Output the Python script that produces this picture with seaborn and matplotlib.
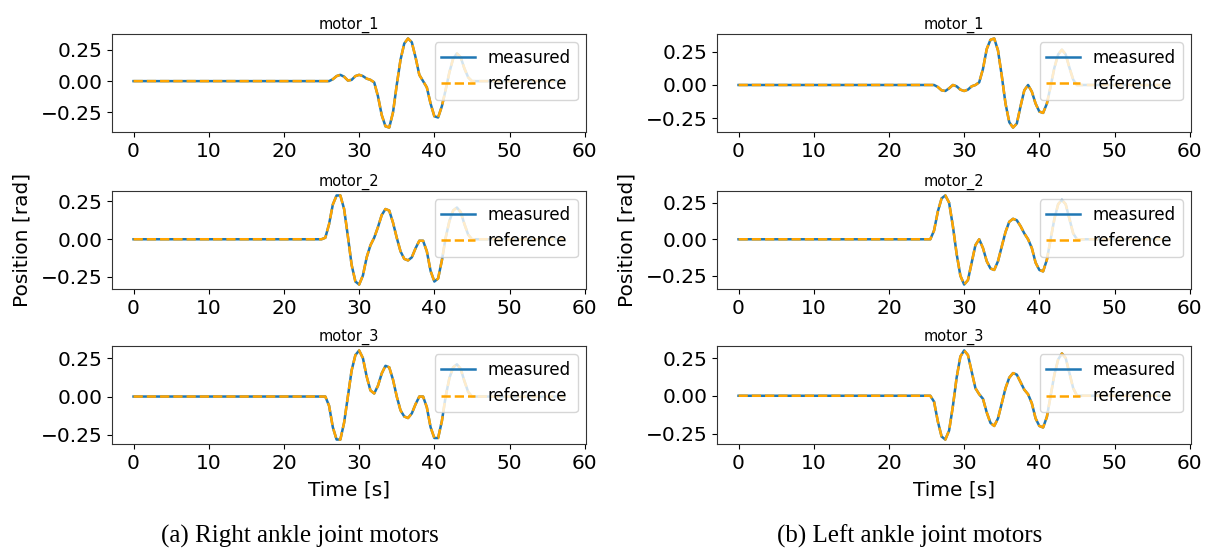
import matplotlib
matplotlib.use("Agg")
import matplotlib.pyplot as plt
import seaborn as sns

plt.rcParams["font.family"] = ["DejaVu Sans"]

# ---------------- data ----------------
time_s = [0.0,
          25.0, 25.5, 26.0, 26.5, 27.0, 27.5, 28.0, 28.5, 29.0, 29.5,
          30.0, 30.5, 31.0, 31.5, 32.0, 32.5, 33.0, 33.5, 34.0, 34.5,
          35.0, 35.5, 36.0, 36.5, 37.0, 37.5, 38.0, 38.5, 39.0, 39.5,
          40.0, 40.5, 41.0, 41.5, 42.0, 42.5, 43.0, 43.5, 44.0, 44.5,
          45.0, 45.5, 46.0, 46.5,
          57.3]

right_motor_1 = [0.0,
                 0.0, 0.0, 0.0, 0.015, 0.04, 0.05, 0.035, 0.005, 0.01, 0.04,
                 0.05, 0.04, 0.02, 0.01, -0.01, -0.12, -0.27, -0.36, -0.37, -0.25,
                 -0.03, 0.17, 0.30, 0.34, 0.31, 0.19, 0.05, 0.0, -0.05, -0.18,
                 -0.28, -0.29, -0.20, -0.07, 0.07, 0.18, 0.22, 0.19, 0.10, 0.03,
                 0.0, 0.0, 0.0, 0.0,
                 0.0]
right_motor_2 = [0.0,
                 0.0, 0.01, 0.10, 0.23, 0.29, 0.29, 0.20, 0.02, -0.17, -0.28,
                 -0.30, -0.24, -0.12, -0.04, 0.01, 0.08, 0.16, 0.20, 0.19, 0.11,
                 0.01, -0.08, -0.13, -0.14, -0.12, -0.06, -0.01, -0.01, -0.08, -0.21,
                 -0.28, -0.26, -0.14, 0.01, 0.12, 0.19, 0.21, 0.18, 0.10, 0.03,
                 0.0, 0.0, 0.0, 0.0,
                 0.0]
right_motor_3 = [0.0,
                 0.0, 0.0, -0.06, -0.20, -0.28, -0.28, -0.17, 0.0, 0.17, 0.27,
                 0.30, 0.25, 0.13, 0.04, 0.02, 0.07, 0.15, 0.20, 0.19, 0.11,
                 0.0, -0.09, -0.13, -0.14, -0.11, -0.05, 0.0, 0.0, -0.07, -0.20,
                 -0.27, -0.27, -0.16, 0.0, 0.12, 0.19, 0.21, 0.18, 0.10, 0.03,
                 0.0, 0.0, 0.0, 0.0,
                 0.0]
left_motor_1 = [0.0,
                0.0, 0.0, 0.0, -0.015, -0.04, -0.045, -0.025, 0.0, -0.01, -0.035,
                -0.045, -0.035, -0.01, 0.0, 0.02, 0.12, 0.27, 0.34, 0.35, 0.26,
                0.07, -0.14, -0.28, -0.32, -0.29, -0.16, -0.04, 0.0, -0.05, -0.14,
                -0.20, -0.21, -0.14, -0.01, 0.13, 0.23, 0.265, 0.23, 0.13, 0.04,
                0.0, 0.0, 0.0, 0.0,
                0.0]
left_motor_2 = [0.0,
                0.0, 0.0, 0.06, 0.19, 0.28, 0.30, 0.25, 0.09, -0.10, -0.25,
                -0.31, -0.28, -0.16, -0.04, 0.0, -0.06, -0.15, -0.20, -0.21, -0.15,
                -0.05, 0.05, 0.12, 0.14, 0.13, 0.09, 0.04, 0.0, -0.06, -0.16,
                -0.21, -0.22, -0.14, 0.0, 0.14, 0.24, 0.27, 0.24, 0.14, 0.04,
                0.0, 0.0, 0.0, 0.0,
                0.0]
left_motor_3 = [0.0,
                0.0, 0.0, -0.04, -0.17, -0.27, -0.29, -0.23, -0.07, 0.12, 0.26,
                0.30, 0.27, 0.16, 0.05, 0.01, -0.02, -0.11, -0.18, -0.20, -0.15,
                -0.05, 0.05, 0.12, 0.15, 0.14, 0.09, 0.04, 0.01, -0.05, -0.15,
                -0.20, -0.21, -0.14, 0.0, 0.14, 0.24, 0.28, 0.25, 0.15, 0.05,
                0.0, 0.0, 0.0, 0.0,
                0.0]

motor_titles = ["motor_1", "motor_2", "motor_3"]
x_ticks = [0, 10, 20, 30, 40, 50, 60]
y_ticks = [-0.25, 0.0, 0.25]
captions = ["(a) Right ankle joint motors", "(b) Left ankle joint motors"]

# ---------------- figure ----------------
W, H = 1214, 552
fig = plt.figure(figsize=(W / 100, H / 100), dpi=100)

col_lefts = [112, 717]
col_width = [474, 474]
row_tops = [34, 191, 346]
row_h = 98

columns = [
    [right_motor_1, right_motor_2, right_motor_3],
    [left_motor_1, left_motor_2, left_motor_3],
]

for c, series in enumerate(columns):
    for r, vals in enumerate(series):
        left = col_lefts[c] / W
        bottom = 1 - (row_tops[r] + row_h) / H
        ax = fig.add_axes([left, bottom, col_width[c] / W, row_h / H])
        sns.lineplot(x=time_s, y=vals, ax=ax, color="#1f77b4", linewidth=1.8,
                     label="measured", sort=False, estimator=None)
        sns.lineplot(x=time_s, y=vals, ax=ax, color="orange", linewidth=1.8,
                     linestyle="--", label="reference", sort=False, estimator=None)
        ax.set_xticks(x_ticks)
        ax.set_yticks(y_ticks)
        ax.set_yticklabels(["\u22120.25", "0.00", "0.25"])
        ax.tick_params(labelsize=14.5)
        for sp in ax.spines.values():
            sp.set_color("#333333")
        ax.set_title(motor_titles[r], fontsize=10.5, pad=4)
        ax.set_xlabel("")
        ax.set_ylabel("")
        ax.legend(loc="upper right", fontsize=12, framealpha=0.8)

    cx = (col_lefts[c] + col_width[c] / 2) / W
    fig.text(cx, 1 - 490 / H, "Time [s]", ha="center", va="center", fontsize=14.5)
    fig.text((col_lefts[c] - 90) / W, 1 - 240 / H, "Position [rad]", rotation=90,
             ha="center", va="center", fontsize=14.5)

fig.text(300 / W, 1 - 536 / H, captions[0], ha="center", va="center",
         fontsize=18, family="Liberation Serif")
fig.text(910 / W, 1 - 536 / H, captions[1], ha="center", va="center",
         fontsize=18, family="Liberation Serif")

fig.savefig("out.png", dpi=100)
